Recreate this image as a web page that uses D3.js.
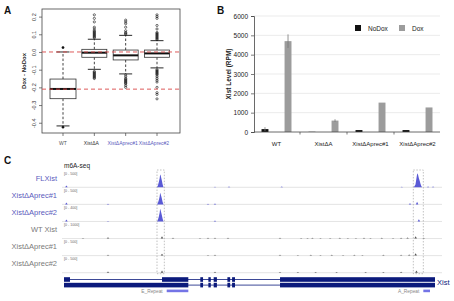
<!DOCTYPE html>
<html>
<head>
<meta charset="utf-8">
<script src="https://cdn.jsdelivr.net/npm/d3@7"></script>
<style>
  body { margin: 0; background: #fff; }
  svg { display: block; font-family: "Liberation Sans", Arial, sans-serif; }
</style>
</head>
<body>
<svg id="fig" width="454" height="301"></svg>
<script>
// ---------- Panel A : boxplot Dox - NoDox ----------
const boxGroups = ["WT", "XistΔA", "XistΔAprec#1", "XistΔAprec#2"];
const boxLabelColors = ["#555", "#333", "#5b5bbd", "#5b5bbd"];
const boxQ1 = [-0.264, -0.030, -0.045, -0.030];
const boxMedian = [-0.209, -0.004, -0.019, -0.008];
const boxQ3 = [-0.153, 0.015, 0.011, 0.011];
const whiskerLow = [-0.418, -0.098, -0.124, -0.090];
const whiskerHigh = [0.0, 0.072, 0.094, 0.064];
const outliers = [
    [0.025, -0.425],
    [0.08, 0.085, 0.09, 0.095, 0.10, 0.105, 0.11, 0.115, 0.12, 0.13, 0.14, 0.17, 0.19, 0.21,
     -0.11, -0.115, -0.12, -0.125, -0.13, -0.135, -0.14, -0.145, -0.15],
    [0.10, 0.105, 0.11, 0.12, 0.14, 0.16, 0.17, 0.18,
     -0.13, -0.14, -0.15, -0.155, -0.16, -0.165, -0.17, -0.175, -0.18, -0.19, -0.2],
    [0.07, 0.075, 0.08, 0.085, 0.09, 0.095, 0.10, 0.105, 0.11, 0.13, 0.15, 0.19, 0.2, 0.21,
     -0.10, -0.105, -0.11, -0.115, -0.12, -0.125, -0.13, -0.14, -0.15, -0.16, -0.17, -0.2, -0.23, -0.24, -0.265]
];
const refLines = [0, -0.21];
const diffTicks = [0.2, 0.1, 0, -0.1, -0.2, -0.3, -0.4];

// ---------- Panel B : Xist level ----------
const xistGroups = ["WT", "XistΔA", "XistΔAprec#1", "XistΔAprec#2"];
const xistSeries = ["NoDox", "Dox"];
const noDoxRPM = [150, 10, 100, 100];
const noDoxErr = [100, 0, 0, 0];
const doxRPM = [4700, 590, 1520, 1270];
const doxErr = [350, 70, 0, 0];
const rpmTicks = [0, 1000, 2000, 3000, 4000, 5000, 6000];

// ---------- Panel C : m6A-seq tracks (positions in bp along Xist) ----------
const trackNames = ["FLXist", "XistΔAprec#1", "XistΔAprec#2", "WT Xist", "XistΔAprec#1", "XistΔAprec#2"];
const trackLabelColors = ["#5b5bbd", "#5b5bbd", "#5b5bbd", "#7a7a7a", "#7a7a7a", "#7a7a7a"];
const trackRanges = ["[0 - 500]", "[0 - 500]", "[0 - 400]", "[0 - 1000]", "[0 - 500]", "[0 - 500]"];
const trackMax = [500, 500, 400, 1000, 500, 500];
const flPeakE = [[5760, 0], [5820, 60], [5880, 180], [5930, 300], [5960, 430], [5990, 400], [6030, 310], [6070, 220], [6110, 110], [6150, 30], [6180, 0]];
const flPeakA = [[21650, 0], [21720, 30], [21790, 90], [21850, 300], [21900, 470], [21950, 420], [22000, 300], [22050, 220], [22100, 120], [22150, 40], [22200, 0]];
const p1PeakE = [[5760, 0], [5820, 50], [5880, 150], [5930, 260], [5960, 387], [5990, 350], [6030, 270], [6070, 190], [6110, 90], [6150, 25], [6180, 0]];
const p2PeakE = [[5760, 0], [5820, 40], [5880, 130], [5930, 230], [5960, 339], [5990, 300], [6030, 230], [6070, 160], [6110, 80], [6150, 20], [6180, 0]];
const trackPeaks = [[flPeakE, flPeakA], [p1PeakE], [p2PeakE], [], [], []];
const trackBumps = [
    [[150, 60], [9360, 20], [10230, 30], [13500, 25], [20940, 20], [22570, 30], [22880, 25]],
    [[150, 60], [2728, 25], [8928, 25], [9360, 30], [21450, 40], [21890, 90]],
    [[150, 50], [2728, 15], [9360, 25], [22000, 60]],
    [[1178, 40], [2728, 80], [6076, 150], [6758, 50], [8432, 40], [8928, 60], [9360, 60], [10168, 50], [13392, 50],
     [14700, 40], [15100, 40], [15400, 50], [15900, 40], [16500, 40], [17100, 50], [17600, 40], [18100, 40],
     [18600, 50], [19000, 40], [19700, 50], [20400, 40], [20900, 60], [21300, 70], [21800, 150], [22300, 50]],
    [[2728, 30], [6076, 60], [8928, 20], [9360, 25], [13392, 25], [14500, 20], [15300, 25], [15900, 20], [16600, 25],
     [17300, 20], [18000, 25], [18500, 20], [19800, 30], [20900, 30], [21400, 40], [21800, 80]],
    [[2728, 40], [6076, 70], [9360, 30], [13392, 25], [14500, 20], [15600, 25], [16900, 20], [18700, 25],
     [19800, 20], [20900, 30], [21850, 70]]
];
const xistLength = 23000;
const transcriptExons = [
    [[0, 372], [6076, 7707], [8450, 8620], [8950, 9100], [9280, 9480], [10130, 10300], [10420, 10600], [13392, 23000]],
    [[0, 7707], [8450, 8620], [8950, 9100], [9280, 9480], [10130, 10300], [10420, 10600], [13392, 23000]]
];
const repeatNames = ["E_Repeat", "A_Repeat"];
const repeatSpans = [[6367, 7707], [22276, 22690]];
const highlightSpans = [[5766, 6220], [21656, 22276]];

const svg = d3.select("#fig");
svg.append("rect").attr("width", 454).attr("height", 301).attr("fill", "#fff");

// panel letters
[["A", 4, 14], ["B", 217, 14], ["C", 4, 164]].forEach(([t, x, y]) => {
    svg.append("text").attr("x", x).attr("y", y)
        .style("font-size", "10px").style("font-weight", "bold").attr("fill", "#111").text(t);
});

// ================= Panel A =================
const ax = d3.scalePoint().domain(boxGroups).range([63, 157]);
const ay = d3.scaleLinear().domain([-0.458, 0.243]).range([133, 9]);
const gA = svg.append("g");

gA.append("rect").attr("x", 42).attr("y", 9).attr("width", 138).attr("height", 124)
    .attr("fill", "none").attr("stroke", "#444").attr("stroke-width", 0.8);

const yAxA = gA.append("g").attr("transform", "translate(42,0)")
    .call(d3.axisLeft(ay).tickValues(diffTicks).tickSize(3).tickFormat(d => d.toFixed(1)));
yAxA.select(".domain").remove();
yAxA.selectAll("line").attr("stroke", "#444").attr("stroke-width", 0.7);
yAxA.selectAll("text")
    .attr("x", 0).attr("dy", 0)
    .attr("transform", "translate(-6,0) rotate(-90)")
    .attr("text-anchor", "middle")
    .style("font-size", "5.5px").attr("fill", "#333");

gA.append("text").attr("transform", "translate(26,71) rotate(-90)")
    .attr("text-anchor", "middle").style("font-size", "6px").style("font-weight", "bold")
    .attr("fill", "#222").text("Dox - NoDox");

boxGroups.forEach((g, i) => {
    const cx = ax(g);
    const w = i === 0 ? 26 : 25;
    // whiskers
    [[boxQ3[i], whiskerHigh[i]], [boxQ1[i], whiskerLow[i]]].forEach(([a, b]) => {
        gA.append("line").attr("x1", cx).attr("x2", cx).attr("y1", ay(a)).attr("y2", ay(b))
            .attr("stroke", "#111").attr("stroke-width", 0.8).attr("stroke-dasharray", "2.5,2");
        gA.append("line").attr("x1", cx - 6.5).attr("x2", cx + 6.5).attr("y1", ay(b)).attr("y2", ay(b))
            .attr("stroke", "#111").attr("stroke-width", 0.9);
    });
    gA.append("rect").attr("x", cx - w / 2).attr("y", ay(boxQ3[i]))
        .attr("width", w).attr("height", ay(boxQ1[i]) - ay(boxQ3[i]))
        .attr("fill", "#fff").attr("stroke", "#333").attr("stroke-width", 0.8);
    gA.append("line").attr("x1", cx - w / 2).attr("x2", cx + w / 2)
        .attr("y1", ay(boxMedian[i])).attr("y2", ay(boxMedian[i]))
        .attr("stroke", "#111").attr("stroke-width", 2);
    gA.selectAll(null).data(outliers[i]).enter().append("circle")
        .attr("cx", cx).attr("cy", d => ay(d)).attr("r", 1.1)
        .attr("fill", i === 0 ? "#111" : "none").attr("stroke", "#111").attr("stroke-width", 0.6);
    // bottom tick + label
    gA.append("line").attr("x1", cx).attr("x2", cx).attr("y1", 133).attr("y2", 136)
        .attr("stroke", "#444").attr("stroke-width", 0.7);
    gA.append("text").attr("x", cx - (i > 0 ? 3 : 0)).attr("y", 145).attr("text-anchor", "middle")
        .style("font-size", "5px").attr("fill", boxLabelColors[i]).text(g);
});

refLines.forEach(v => {
    gA.append("line").attr("x1", 42).attr("x2", 180).attr("y1", ay(v)).attr("y2", ay(v))
        .attr("stroke", "#d94848").attr("stroke-width", 0.9).attr("stroke-dasharray", "4,3");
});

// ================= Panel B =================
const bx0 = d3.scaleBand().domain(xistGroups).range([253, 441]);
const bx1 = d3.scaleBand().domain(xistSeries).range([0, bx0.bandwidth()])
    .paddingInner(0.7).paddingOuter(0.37);
const by = d3.scaleLinear().domain([0, 6000]).range([132, 16]);
const seriesColor = { NoDox: "#111", Dox: "#9c9c9c" };
const gB = svg.append("g");

// gridlines
gB.selectAll(null).data(rpmTicks.slice(1)).enter().append("line")
    .attr("x1", 254).attr("x2", 440).attr("y1", d => by(d)).attr("y2", d => by(d))
    .attr("stroke", "#e2e2e2").attr("stroke-width", 0.7);

const yAxB = gB.append("g").attr("transform", "translate(254,0)")
    .call(d3.axisLeft(by).tickValues(rpmTicks).tickSize(3).tickPadding(3).tickFormat(d3.format("d")));
yAxB.select(".domain").attr("stroke", "#444").attr("stroke-width", 0.8);
yAxB.selectAll("line").attr("stroke", "#444").attr("stroke-width", 0.7);
yAxB.selectAll("text").style("font-size", "6.5px").attr("fill", "#222")
    .style("font-family", "'Liberation Sans', Arial, sans-serif");

gB.append("text").attr("transform", "translate(231,74) rotate(-90)")
    .attr("text-anchor", "middle").style("font-size", "6.5px").style("font-weight", "bold")
    .attr("fill", "#222").text("Xist Level (RPM)");

const barRows = xistGroups.flatMap((g, i) => [
    { g, s: "NoDox", v: noDoxRPM[i], e: noDoxErr[i] },
    { g, s: "Dox", v: doxRPM[i], e: doxErr[i] }
]);
gB.selectAll(".bar").data(barRows).enter().append("rect")
    .attr("x", d => bx0(d.g) + bx1(d.s)).attr("width", bx1.bandwidth())
    .attr("y", d => by(d.v)).attr("height", d => by(0) - by(d.v))
    .attr("fill", d => seriesColor[d.s]);
gB.selectAll(".err").data(barRows.filter(d => d.e > 0)).enter().append("line")
    .attr("x1", d => bx0(d.g) + bx1(d.s) + bx1.bandwidth() / 2)
    .attr("x2", d => bx0(d.g) + bx1(d.s) + bx1.bandwidth() / 2)
    .attr("y1", d => by(d.v - d.e)).attr("y2", d => by(d.v + d.e))
    .attr("stroke", "#777").attr("stroke-width", 0.8);

// x axis line with ticks between groups
gB.append("line").attr("x1", 254).attr("x2", 440).attr("y1", by(0)).attr("y2", by(0))
    .attr("stroke", "#444").attr("stroke-width", 0.8);
gB.selectAll(".xt").data(xistGroups.slice(1)).enter().append("line")
    .attr("x1", d => bx0(d)).attr("x2", d => bx0(d)).attr("y1", by(0)).attr("y2", by(0) + 2.5)
    .attr("stroke", "#444").attr("stroke-width", 0.7);
gB.selectAll(".xl").data(xistGroups).enter().append("text")
    .attr("x", d => bx0(d) + bx0.bandwidth() / 2).attr("y", 146)
    .attr("text-anchor", "middle").style("font-size", "6px").attr("fill", "#222").text(d => d);

// legend
xistSeries.forEach((s, i) => {
    const lx = 355 + i * 44;
    gB.append("rect").attr("x", lx).attr("y", 25).attr("width", 6).attr("height", 6).attr("fill", seriesColor[s]);
    gB.append("text").attr("x", lx + 13).attr("y", 30.5).style("font-size", "6.5px").attr("fill", "#222").text(s);
});

// ================= Panel C =================
const gx = d3.scaleLinear().domain([0, xistLength]).range([64, 435]);
const gC = svg.append("g");
const trackStep = 17.08, firstBase = 187.3, trackH = 15;
const peakColor = "#5a5ad6";

gC.append("text").attr("x", 64).attr("y", 168).style("font-size", "6.5px").attr("fill", "#222").text("m6A-seq");

trackNames.forEach((name, i) => {
    const base = firstBase + i * trackStep;
    const ty = d3.scaleLinear().domain([0, trackMax[i]]).range([base, base - trackH]);
    const area = d3.area().x(d => gx(d[0])).y0(base).y1(d => ty(d[1]));

    gC.append("line").attr("x1", 62).attr("x2", 442).attr("y1", base).attr("y2", base)
        .attr("stroke", "#d8d8d8").attr("stroke-width", 0.7);
    gC.append("text").attr("x", 57).attr("y", base - 6.5).attr("text-anchor", "end")
        .style("font-size", "7.5px").attr("fill", trackLabelColors[i]).text(name);
    gC.append("text").attr("x", 64).attr("y", base - 12.3)
        .style("font-size", "3.6px").attr("fill", "#666").text(trackRanges[i]);

    trackPeaks[i].forEach(p => {
        gC.append("path").datum(p).attr("d", area).attr("fill", peakColor);
    });
    trackBumps[i].forEach(([pos, v]) => {
        gC.append("path").datum([[pos - 80, 0], [pos, v], [pos + 80, 0]])
            .attr("d", area).attr("fill", i < 3 ? peakColor : "#555");
    });
});

// highlighted regions
const lastBase = firstBase + 5 * trackStep;
highlightSpans.forEach(([a, b]) => {
    gC.append("rect").attr("x", gx(a)).attr("y", 170).attr("width", gx(b) - gx(a)).attr("height", lastBase + 1 - 170)
        .attr("fill", "none").attr("stroke", "#999").attr("stroke-width", 0.6).attr("stroke-dasharray", "1.5,1.5");
});

// gene model
const geneColor = "#0b1a7c";
transcriptExons.forEach((exons, t) => {
    const yc = 279.5 + t * 5.6;
    gC.append("line").attr("x1", gx(0)).attr("x2", gx(xistLength)).attr("y1", yc).attr("y2", yc)
        .attr("stroke", geneColor).attr("stroke-width", 0.8);
    exons.forEach(([a, b]) => {
        gC.append("rect").attr("x", gx(a)).attr("y", yc - 2.3).attr("width", gx(b) - gx(a)).attr("height", 4.6)
            .attr("fill", geneColor);
    });
});
gC.append("text").attr("x", 437).attr("y", 285).style("font-size", "7.5px").attr("fill", geneColor).text("Xist");

// repeats
repeatNames.forEach((n, i) => {
    const [a, b] = repeatSpans[i];
    gC.append("rect").attr("x", gx(a)).attr("y", 289.6).attr("width", gx(b) - gx(a)).attr("height", 2.6)
        .attr("fill", "#7474e6");
    gC.append("text").attr("x", gx(a) - 4).attr("y", 293).attr("text-anchor", "end")
        .style("font-size", "4.8px").attr("fill", "#888").text(n);
});
</script>
</body>
</html>
